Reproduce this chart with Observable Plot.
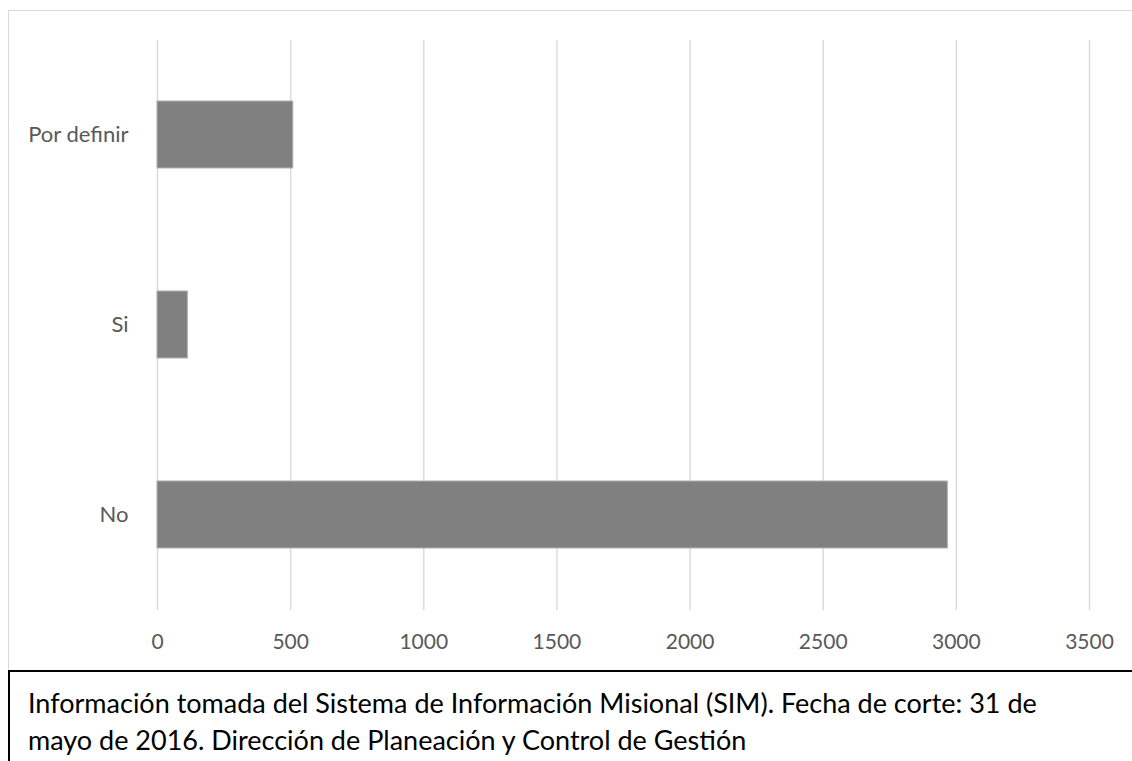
<!DOCTYPE html>
<html>
<head>
<meta charset="utf-8">
<script src="https://cdn.jsdelivr.net/npm/d3@7"></script>
<script src="https://cdn.jsdelivr.net/npm/@observablehq/plot@0.6"></script>
<style>
  html, body { margin: 0; padding: 0; background: #fff; }
  body { width: 1132px; height: 761px; overflow: hidden; position: relative; font-family: Lato, "Open Sans", sans-serif; }
  #frame { position: absolute; left: 8px; top: 10px; width: 1200px; height: 661px;
           border-top: 1.5px solid #d9d9d9; border-left: 1.5px solid #d9d9d9; box-sizing: border-box; }
  #chart { position: absolute; left: 0; top: 0; }
  #caption { position: absolute; left: 8px; top: 670px; width: 1200px; height: 120px; box-sizing: border-box;
             border-top: 2px solid #000; border-left: 2px solid #000;
             padding: 12px 0 0 18px; font-family: Lato, sans-serif; font-size: 27px; line-height: 37px; color: #000; white-space: nowrap; }
</style>
</head>
<body>
<div id="frame"></div>
<div id="chart"></div>
<div id="caption">Información tomada del Sistema de Información Misional (SIM). Fecha de corte: 31 de<br>mayo de 2016. Dirección de Planeación y Control de Gestión</div>
<script>
const categories = ["Por definir", "Si", "No"];
const values = [510, 114, 2968];
const xTicks = [0, 500, 1000, 1500, 2000, 2500, 3000, 3500];

const data = categories.map((c, i) => ({category: c, value: values[i]}));

const chart = Plot.plot({
  width: 1132,
  height: 671,
  marginLeft: 157,
  marginRight: 43,
  marginTop: 40,
  marginBottom: 61,
  style: {fontFamily: "Lato, sans-serif", background: "transparent"},
  x: {domain: [0, 3500], ticks: xTicks, label: null},
  y: {domain: categories, paddingInner: 0.647, paddingOuter: 0.3235, label: null},
  marks: [
    Plot.ruleX(xTicks, {stroke: "#d9d9d9", strokeWidth: 1.4}),
    Plot.barX(data, {x: "value", y: "category", fill: "#808080", stroke: "#b0b0b0", strokeWidth: 1}),
    Plot.axisX({ticks: xTicks, tickFormat: d => String(d), tickSize: 0, tickPadding: 24, fontSize: 21, color: "#595959", label: null}),
    Plot.axisY({tickSize: 0, tickPadding: 29, fontSize: 22, color: "#595959", label: null})
  ]
});
document.getElementById("chart").appendChild(chart);
</script>
</body>
</html>
